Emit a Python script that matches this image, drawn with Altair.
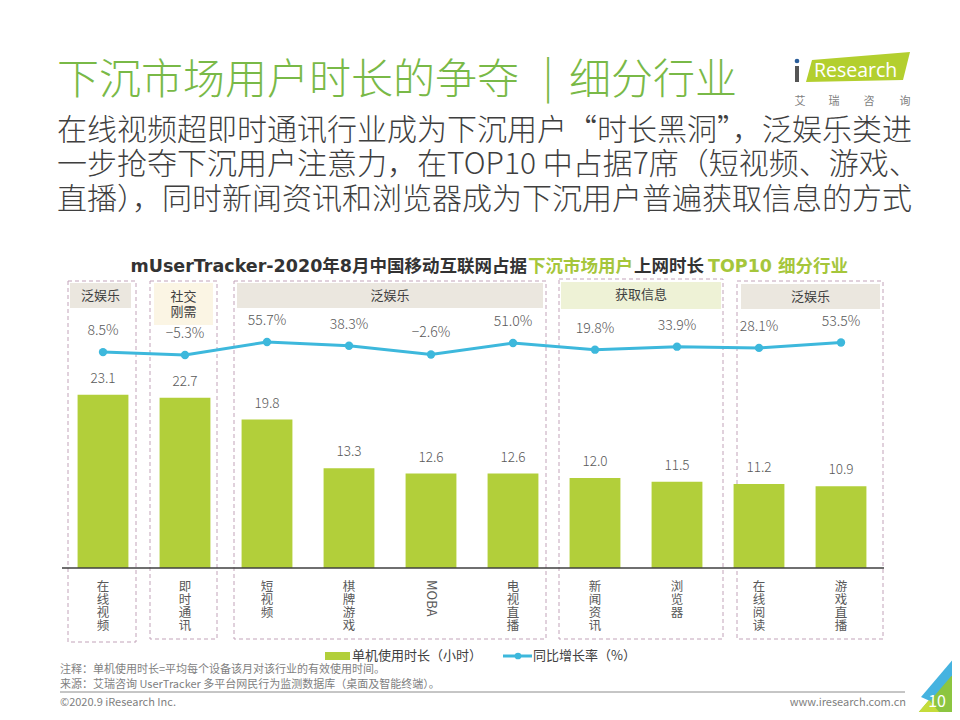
import altair as alt
import pandas as pd

# ---------------- data ----------------
categories = ["在线视频", "即时通讯", "短视频", "棋牌游戏", "MOBA",
              "电视直播", "新闻资讯", "浏览器", "在线阅读", "游戏直播"]
hours = [23.1, 22.7, 19.8, 13.3, 12.6, 12.6, 12.0, 11.5, 11.2, 10.9]
growth = [8.5, -5.3, 55.7, 38.3, -2.6, 51.0, 19.8, 33.9, 28.1, 53.5]
group_names = ["泛娱乐", "社交\n刚需", "泛娱乐", "获取信息", "泛娱乐"]

title_main = "下沉市场用户时长的争夺"
title_sep = "|"
title_tail = "细分行业"
subtitle_lines = [
    "在线视频超即时通讯行业成为下沉用户“时长黑洞”，泛娱乐类进",
    "一步抢夺下沉用户注意力，在TOP10 中占据7席（短视频、游戏、",
    "直播），同时新闻资讯和浏览器成为下沉用户普遍获取信息的方式",
]
chart_title_parts = ["mUserTracker-2020年8月中国移动互联网占据", "下沉市场用户", "上网时长", "TOP10 细分行业"]
legend_labels = ["单机使用时长（小时）", "同比增长率（%）"]
notes = ["注释：单机使用时长=平均每个设备该月对该行业的有效使用时间。",
         "来源：艾瑞咨询 UserTracker 多平台网民行为监测数据库（桌面及智能终端）。"]
footer_left = "©2020.9 iResearch Inc."
footer_right = "www.iresearch.com.cn"
page_no = "10"
logo_word = "Research"
logo_cn = ["艾", "瑞", "咨", "询"]

# ---------------- layout / style ----------------
OFF = 8
def P(v):
    return v - OFF

FONT = "Noto Sans CJK SC"
TFONT = "DejaVu Sans, Noto Sans CJK SC"
GREEN_T = "#79b947"
BAR = "#b2cf3a"
LINE = "#3db8dc"
DARK = "#404040"
MID = "#595959"
GRAY = "#7f7f7f"

box_x0 = [68, 150, 234, 559, 737]
box_x1 = [136, 217, 546, 723, 883]
box_y0 = [281, 281, 281, 279, 281]
box_y1 = [642, 639, 639, 639, 639]
head_x0 = [70, 154, 237, 561, 741]
head_x1 = [131, 213, 543, 721, 880]
head_y0 = [283, 283, 283, 282, 284]
head_y1 = [308, 325, 308, 309, 309]
head_text_y = [296, 297, 296, 295, 297]
head_fill = ["#ebe7df", "#fbf5e4", "#ebe7df", "#eef2d6", "#ebe7df"]

ONE = pd.DataFrame({"a": [0]})


def text(t, x, y, size, color, align="left", weight="normal", font=FONT, baseline="middle", **kw):
    return alt.Chart(ONE).mark_text(
        text=t, align=align, baseline=baseline, fontSize=size, color=color,
        fontWeight=weight, font=font, **kw
    ).encode(x=alt.value(P(x)), y=alt.value(P(y)))


def poly(points, color):
    path = "M" + " L".join(f"{P(x)},{P(y)}" for x, y in points) + " Z"
    return alt.Chart(ONE).mark_point(
        shape=path, size=4, filled=True, color=color, opacity=1, strokeWidth=0
    ).encode(x=alt.value(0), y=alt.value(0))


layers = []

# ---- slide title & subtitle ----
layers.append(text(title_main, 57, 81, 42, GREEN_T, weight=300))
layers.append(text(title_sep, 548, 79, 42, GREEN_T, align="center", weight=300))
layers.append(text(title_tail, 569, 81, 42, GREEN_T, weight=300))
for i, line in enumerate(subtitle_lines):
    layers.append(text(line, 57, [131, 165, 200][i], 30, "#3f3f3f", weight=300))

# ---- logo ----
layers.append(poly([(812, 60), (910, 52), (903, 80), (806, 82)], "#b3cf2e"))
layers.append(text(logo_word, 814, 71, 19.5, "white", font="Open Sans"))
layers.append(alt.Chart(ONE).mark_rect(color="#555555").encode(
    x=alt.value(P(795)), x2=alt.value(P(799)), y=alt.value(P(66)), y2=alt.value(P(82))))
layers.append(alt.Chart(ONE).mark_circle(color="#2a5d9a", size=22, opacity=1).encode(
    x=alt.value(P(797)), y=alt.value(P(61))))
for ch, cx in zip(logo_cn, [800, 834, 869, 905]):
    layers.append(text(ch, cx, 102, 11, GRAY, align="center"))

# ---- chart title (multi-colour) ----
layers.append(text(chart_title_parts[0], 527, 267, 17.5, "#333333", align="right", weight="bold", font=TFONT))
layers.append(text(chart_title_parts[1], 528, 267, 17.5, "#a5c63b", weight="bold", font=TFONT))
layers.append(text(chart_title_parts[2], 634, 267, 17.5, "#333333", weight="bold", font=TFONT))
layers.append(text(chart_title_parts[3], 708, 267, 17.5, "#a5c63b", weight="bold", font=TFONT))

# ---- group boxes & headers ----
boxes = pd.DataFrame({"x0": [P(v) for v in box_x0], "x1": [P(v) for v in box_x1],
                      "y0": [P(v) for v in box_y0], "y1": [P(v) for v in box_y1]})
layers.append(alt.Chart(boxes).mark_rect(
    fillOpacity=0, stroke="#c2a3b9", strokeWidth=1, strokeDash=[4, 3]
).encode(x=alt.X("x0:Q", scale=None), x2="x1:Q", y=alt.Y("y0:Q", scale=None), y2="y1:Q"))

heads = pd.DataFrame({
    "x0": [P(v) for v in head_x0], "x1": [P(v) for v in head_x1],
    "y0": [P(v) for v in head_y0], "y1": [P(v) for v in head_y1],
    "ty": [P(v) for v in head_text_y],
    "fill": head_fill, "name": group_names,
})
heads["cx"] = (heads["x0"] + heads["x1"]) / 2
layers.append(alt.Chart(heads).mark_rect().encode(
    x=alt.X("x0:Q", scale=None), x2="x1:Q", y=alt.Y("y0:Q", scale=None), y2="y1:Q",
    color=alt.Color("fill:N", scale=None)))
layers.append(alt.Chart(heads).mark_text(
    font=FONT, fontSize=13, color=DARK, lineBreak="\n", lineHeight=15, baseline="middle"
).encode(x=alt.X("cx:Q", scale=None), y=alt.Y("ty:Q", scale=None), text="name:N"))

# ---- data layers ----
df = pd.DataFrame({"cat": categories, "hours": hours, "growth": growth})
df["lab"] = ["\n".join(c) if c != "MOBA" else c for c in categories]

xenc = alt.X("cat:N", axis=None,
             scale=alt.Scale(domain=categories, range=[P(62), P(882)], paddingInner=0.38, paddingOuter=0.19))
ybar = alt.Y("hours:Q", axis=None, scale=alt.Scale(domain=[0, 30], range=[P(568), P(343)], nice=False))
yline = alt.Y("growth:Q", axis=None, scale=alt.Scale(domain=[-100, 100], range=[P(375.2), P(332.6)], nice=False))

base = alt.Chart(df)
layers.append(base.mark_bar(color=BAR).encode(x=xenc, y=ybar))
layers.append(base.mark_text(font=FONT, fontSize=13.5, color=MID, dy=-16, baseline="middle", fontWeight=300).encode(
    x=xenc, y=ybar, text=alt.Text("hours:Q", format=".1f")))

# axis line
layers.append(alt.Chart(ONE).mark_rule(color="#3f3f3f", strokeWidth=1.5).encode(
    x=alt.value(P(62)), x2=alt.value(P(884)), y=alt.value(P(568))))

layers.append(base.mark_line(color=LINE, strokeWidth=3).encode(x=xenc, y=yline))
layers.append(base.mark_circle(color=LINE, size=70, opacity=1).encode(x=xenc, y=yline))
layers.append(base.transform_calculate(pct="format(datum.growth, '.1f') + '%'").mark_text(
    font=FONT, fontSize=14, color=MID, dy=-21, baseline="middle", fontWeight=300).encode(
    x=xenc, y=yline, text="pct:N"))

# category labels (vertical)
layers.append(base.transform_filter("datum.cat != 'MOBA'").mark_text(
    font=FONT, fontSize=12.5, color=MID, lineBreak="\n", lineHeight=13, baseline="top"
).encode(x=xenc, y=alt.value(P(581)), text="lab:N"))
layers.append(base.transform_filter("datum.cat == 'MOBA'").mark_text(
    font=FONT, fontSize=13, color=MID, angle=90, align="left", baseline="middle"
).encode(x=xenc, y=alt.value(P(580)), text="cat:N"))

# ---- legend ----
layers.append(alt.Chart(ONE).mark_rect(color=BAR).encode(
    x=alt.value(P(325)), x2=alt.value(P(350)), y=alt.value(P(652)), y2=alt.value(P(660))))
layers.append(text(legend_labels[0], 352, 656, 13, DARK))
layers.append(alt.Chart(ONE).mark_rule(color=LINE, strokeWidth=3).encode(
    x=alt.value(P(503)), x2=alt.value(P(532)), y=alt.value(P(656))))
layers.append(alt.Chart(ONE).mark_circle(color=LINE, size=45, opacity=1).encode(
    x=alt.value(P(518)), y=alt.value(P(656))))
layers.append(text(legend_labels[1], 533, 656, 13, DARK))

# ---- notes & footer ----
layers.append(text(notes[0], 60, 670, 11, GRAY))
layers.append(text(notes[1], 60, 685, 11, GRAY))
layers.append(alt.Chart(ONE).mark_rule(color="#8c8c8c", strokeWidth=1).encode(
    x=alt.value(P(60)), x2=alt.value(P(905)), y=alt.value(P(692))))
layers.append(text(footer_left, 60, 703, 11, GRAY))
layers.append(text(footer_right, 906, 703, 11, GRAY, align="right"))

# corner decoration
layers.append(poly([(912, 720), (960, 664), (960, 720)], "#8cc540"))
layers.append(poly([(921, 697), (960, 651), (960, 666), (930, 701)], "#45b3e0"))
layers.append(poly([(912, 720), (929, 700), (946, 720)], "#c5dc3a"))
layers.append(text(page_no, 937, 702, 16, "white", align="center"))

chart = alt.layer(*layers).resolve_scale(x="independent", y="independent").properties(
    width=944, height=704, autosize="none", padding=0, background="white"
).configure_view(stroke=None)

chart.save("out.html", embed_options={"renderer": "svg", "actions": False})
